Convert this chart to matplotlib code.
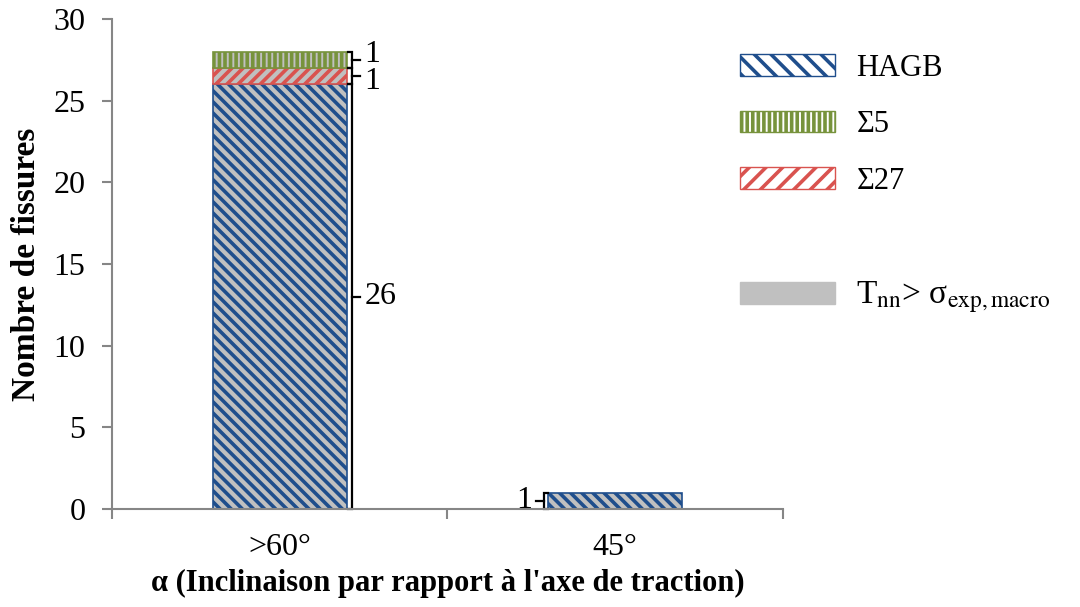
import matplotlib.pyplot as plt
from matplotlib.patches import Patch
import numpy as np

plt.rcParams['font.family'] = ['Liberation Serif', 'DejaVu Serif']
plt.rcParams['mathtext.fontset'] = 'stix'
plt.rcParams['hatch.linewidth'] = 2.6

categories = ['>60°', '45°']
hagb = [26, 1]
sigma27 = [1, 0]
sigma5 = [1, 0]

blue = '#1f4e8c'
green = '#77933c'
red = '#d9534f'
grey = '#c0c0c0'
axis_grey = '#868686'

fig = plt.figure(figsize=(10.8, 6.07), dpi=100)
ax = fig.add_axes([0.1037, 0.1614, 0.6213, 0.8073])

x = np.arange(len(categories))
w = 0.4
bottom = np.zeros(len(categories))
for vals, col, hatch in [(hagb, blue, '\\\\\\'), (sigma27, red, '///'), (sigma5, green, '|||')]:
    v = np.array(vals, dtype=float)
    mask = v > 0
    ax.bar(x[mask], v[mask], w, bottom=bottom[mask], color=grey, edgecolor=col,
           hatch=hatch, linewidth=1.2)
    bottom += v

# accolades avec etiquettes
def bracket(ax, xb, y0, y1, label, side=1, dy=0):
    d = 0.012 * side
    ax.plot([xb - d, xb, xb, xb - d], [y0, y0, y1, y1], color='black', lw=1.6,
            clip_on=False, solid_joinstyle='miter')
    ym = (y0 + y1) / 2
    ax.plot([xb, xb + 2 * d], [ym, ym], color='black', lw=1.6, clip_on=False)
    ax.text(xb + 3 * d, ym + dy, label, ha='left' if side > 0 else 'right',
            va='center', fontsize=23)

xr = x[0] + w / 2 + 0.016
b = 0
for val, dy in zip([hagb[0], sigma27[0], sigma5[0]], [0, -0.3, 0.35]):
    bracket(ax, xr, b, b + val, str(val), dy=dy)
    b += val
bracket(ax, x[1] - w / 2 - 0.012, 0, hagb[1], str(hagb[1]), side=-1)

ax.set_xlim(-0.5, 1.5)
ax.set_ylim(0, 30)
ax.set_yticks(range(0, 31, 5))
ax.set_xticks([-0.5, 0.5, 1.5])
ax.set_xticklabels([])
ax.set_xticks(x, minor=True)
ax.set_xticklabels(categories, minor=True)
ax.tick_params(axis='x', which='minor', length=0, pad=17, labelsize=23)
ax.tick_params(axis='x', which='major', length=7, color=axis_grey, width=1.5)
ax.tick_params(axis='y', length=7, color=axis_grey, width=1.5, labelsize=23, pad=12)
for s in ['top', 'right']:
    ax.spines[s].set_visible(False)
for s in ['left', 'bottom']:
    ax.spines[s].set_color(axis_grey)
    ax.spines[s].set_linewidth(1.5)

ax.set_ylabel('Nombre de fissures', fontsize=24, fontweight='bold', labelpad=8)
ax.set_xlabel("α (Inclinaison par rapport à l'axe de traction)", fontsize=22,
              fontweight='bold', labelpad=5)

handles = [
    Patch(facecolor='white', edgecolor=blue, hatch='\\\\', label='HAGB'),
    Patch(facecolor='white', edgecolor=green, hatch='|||', label='Σ5'),
    Patch(facecolor='white', edgecolor=red, hatch='//', label='Σ27'),
    Patch(facecolor='none', edgecolor='none', label=' '),
    Patch(facecolor=grey, edgecolor=grey, label=r'T$_{\rm nn}$> σ$_{\rm exp,macro}$'),
]
leg = fig.legend(handles=handles, loc='upper left', bbox_to_anchor=(0.66, 0.957),
                 frameon=False, fontsize=22, handlelength=3.1, handleheight=0.7,
                 labelspacing=0.9, handletextpad=0.7)
leg.get_texts()[4].set_fontsize(24)

fig.savefig('out.png', dpi=100)
